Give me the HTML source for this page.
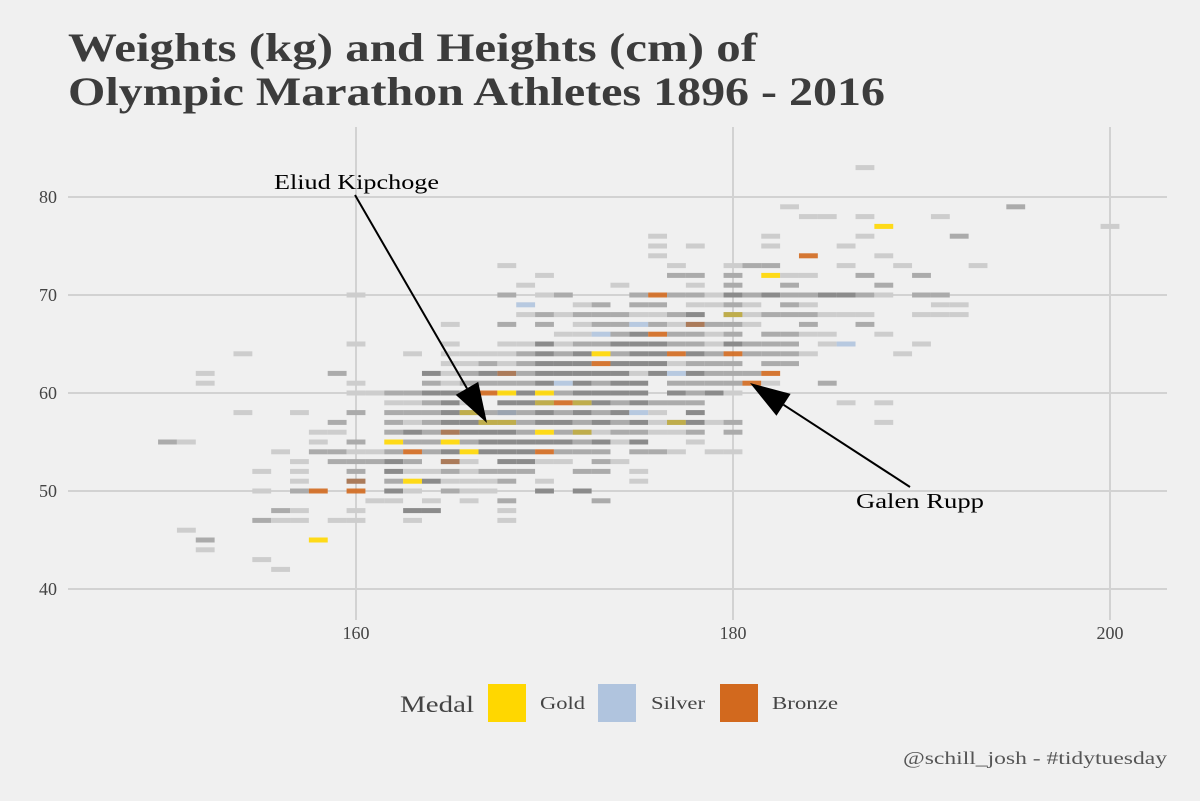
<!DOCTYPE html>
<html><head><meta charset="utf-8"><style>
html,body{margin:0;padding:0;background:#f0f0f0;}
svg{display:block;font-family:"Liberation Serif",serif;}
</style></head><body>
<svg width="1200" height="801" viewBox="0 0 1200 801">
<rect width="1200" height="801" fill="#f0f0f0"/>
<text x="68" y="61" font-size="40" font-weight="bold" fill="#3c3c3c" textLength="689" lengthAdjust="spacingAndGlyphs">Weights (kg) and Heights (cm) of</text>
<text x="68" y="105" font-size="40" font-weight="bold" fill="#3c3c3c" textLength="817" lengthAdjust="spacingAndGlyphs">Olympic Marathon Athletes 1896 - 2016</text>
<g id="grid"></g>
<g id="tiles"></g>
<g id="axes"></g>
<g id="annot"></g>
<g>
<text x="400" y="712" font-size="23" fill="#444" textLength="74" lengthAdjust="spacingAndGlyphs">Medal</text>
<rect x="488" y="684" width="38" height="38" fill="#FFD700"/>
<text x="540" y="709" font-size="18" fill="#444" textLength="45" lengthAdjust="spacingAndGlyphs">Gold</text>
<rect x="598" y="684" width="38" height="38" fill="#B0C4DE"/>
<text x="651" y="709" font-size="18" fill="#444" textLength="54" lengthAdjust="spacingAndGlyphs">Silver</text>
<rect x="720" y="684" width="38" height="38" fill="#D2691E"/>
<text x="772" y="709" font-size="18" fill="#444" textLength="66" lengthAdjust="spacingAndGlyphs">Bronze</text>
</g>
<text x="903" y="764" font-size="18" fill="#555" textLength="264" lengthAdjust="spacingAndGlyphs">@schill_josh - #tidytuesday</text>
</svg>
<script>
const xTicks=[160,180,200];
const yTicks=[40,50,60,70,80];
const rowWeights=[83,79,78,77,76,75,74,73,72,71,70,69,68,67,66,65,64,63,62,61,60,59,58,57,56,55,54,53,52,51,50,49,48,47,46,45,44,43,42];
const rowCells=[
"187l","183l 195m","184l 185l 187l 191l","188G 200l","176l 182l 187l 192m","176l 178l 182l 186l","176l 184B 188l",
"168l 177l 180l 181m 182m 186l 189l 193l",
"170l 177m 178m 180m 182G 183l 184l 187m 190m",
"169l 174l 178l 180m 183m 188m",
"160l 168m 170l 171m 175m 176B 177m 178m 179l 180d 181m 182d 183m 184m 185d 186d 187m 188l 190m 191m",
"169S 172l 173m 175m 176m 178l 179l 180m 181l 183m 184l 191l 192l",
"169l 170m 171l 172m 173m 174m 175l 176l 177m 178d 180o 181l 182m 183m 184m 185l 186l 187l 190l 191l 192l",
"165l 168m 170m 172l 173m 174m 175S 176m 177l 178b 179m 180m 181l 184m 187m",
"171l 172l 173S 174m 175d 176B 177m 178m 179l 180m 182m 183m 184l 185l 188l",
"160l 165l 168l 169l 170d 171l 172m 173m 174d 175d 176d 177m 178m 179l 180d 181m 182m 183m 185l 186S 190l",
"154l 163l 165l 166l 167l 168l 169m 170d 171m 172d 173G 174m 175d 176d 177B 178d 179m 180B 181m 182m 183m 184l 189l",
"165l 166l 167m 168l 169m 170d 171d 172d 173B 174d 175d 176d 177l 178m 179m 180m 182m 183m",
"152l 159m 164d 165l 166m 167d 168b 169m 170d 171d 172d 173d 174d 175l 176d 177S 178d 179m 180m 181m 182B",
"152l 160l 164m 165l 166m 167m 168m 169m 170d 171S 172d 173m 174d 175d 177m 178m 179m 180m 181B 182l 185m",
"160l 161l 162m 163m 164d 165d 166m 167B 168G 169d 170G 171m 172d 173d 174d 175d 177d 178m 179d 180l",
"162l 163l 164m 165d 166l 168d 169d 170o 171B 172o 173d 174m 175d 176m 177m 178m 186l 188l",
"154l 157l 160m 162m 163m 164m 165d 166o 167m 168s 169m 170d 171m 172d 173m 174d 175S 176l 178d",
"159m 162m 163l 164m 165d 166d 167o 168o 169m 170d 171d 172m 173d 174m 175d 176l 177o 178d 179l 180m 188l",
"158l 159l 162m 163d 164m 165b 166d 167d 168d 169m 170G 171m 172o 173l 174m 175m 176l 177l 178m 180m",
"150m 151l 158l 160m 162G 163m 164m 165G 166m 167d 168d 169d 170d 171d 172m 173d 174l 175d 178l",
"156l 158m 159m 160l 161l 162m 163B 164m 165d 166G 167d 168d 169d 170B 171m 172m 173m 175m 176m 177l 179l 180l",
"157l 159m 160m 161m 162d 163m 165b 166l 168d 169d 170l 171l 173m 174l",
"155l 157l 160m 162d 163l 164l 165m 166l 167m 168m 169m 172m 173m 175l",
"157l 160b 162m 163G 164d 165l 166l 167l 168m 170l 175l",
"155l 157m 158B 160B 162d 163l 165m 166l 167l 170d 172d",
"161l 162l 164l 166l 168m 173m",
"156m 157l 160l 163d 164d 168l",
"155m 156l 157l 159l 160l 163l 168l",
"151l","152m 158G","152l","155l","156l"
];
const NS="http://www.w3.org/2000/svg";
const x0=356, xs=(733-356)/20, y0=197, ys=(589-197)/40;
function xScale(h){return x0+(h-160)*xs;}
function yScale(w){return y0+(80-w)*ys;}
function mk(tag,attrs,parent){const e=document.createElementNS(NS,tag);for(const k in attrs)e.setAttribute(k,attrs[k]);parent.appendChild(e);return e;}
const grid=document.getElementById('grid'),tiles=document.getElementById('tiles'),axes=document.getElementById('axes'),annot=document.getElementById('annot');
yTicks.forEach(t=>{
  const l=mk('line',{x1:68,x2:1167,y1:yScale(t),y2:yScale(t),stroke:'#d2d2d2','stroke-width':2},grid);
  
  
  const tx=mk('text',{x:57,y:yScale(t)+6,'font-size':18,fill:'#444','text-anchor':'end'},axes);
  tx.textContent=t;
  
  
});
xTicks.forEach(t=>{
  const l=mk('line',{x1:xScale(t),x2:xScale(t),y1:127,y2:620,stroke:'#d2d2d2','stroke-width':2},grid);
  
  
  const tx=mk('text',{x:xScale(t),y:639,'font-size':18,fill:'#444','text-anchor':'middle'},axes);
  tx.textContent=t;
  
  
});
const grayFill={l:'#cdcdcd',m:'#ababab',d:'#8b8b8b'};
const medalFill={G:'#FFD700',S:'#B0C4DE',B:'#D2691E',o:'#FFD700',s:'#B0C4DE',b:'#D2691E'};
rowWeights.forEach((w,i)=>{
  rowCells[i].split(' ').forEach(c=>{
    const h=parseFloat(c.slice(0,-1)), code=c.slice(-1);
    const x=xScale(h-0.5), y=yScale(w)-2.5, wd=xs;
    if(grayFill[code]){
      const r=mk('rect',{x:x,y:y,width:wd,height:5,fill:grayFill[code]},tiles);
      
      
    } else {
      if('osb'.includes(code)){
        const r=mk('rect',{x:x,y:y,width:wd,height:5,fill:'#8b8b8b'},tiles);
        
        
      }
      const r=mk('rect',{x:x,y:y,width:wd,height:5,fill:medalFill[code],opacity:('osb'.includes(code)?0.45:0.9)},tiles);
      
      
    }
  });
});
function arrow(x1,y1,x2,y2,name){
  const dx=x2-x1,dy=y2-y1,L=Math.hypot(dx,dy),ux=dx/L,uy=dy/L,hl=40,hw=13;
  const bx=x2-ux*hl,by=y2-uy*hl;
  const ln=mk('line',{x1:x1,y1:y1,x2:bx,y2:by,stroke:'#000','stroke-width':2},annot);
  
  
  const p=mk('polygon',{points:`${x2},${y2} ${bx-uy*hw},${by+ux*hw} ${bx+uy*hw},${by-ux*hw}`,fill:'#000'},annot);
  
  
}
arrow(355,195,487,423,'kipchoge-arrow');
arrow(910,487,750,383,'rupp-arrow');
const t1=mk('text',{x:274,y:189,'font-size':21,fill:'#000',textLength:165,lengthAdjust:'spacingAndGlyphs'},annot);
t1.textContent='Eliud Kipchoge';


const t2=mk('text',{x:856,y:508,'font-size':21,fill:'#000',textLength:128,lengthAdjust:'spacingAndGlyphs'},annot);
t2.textContent='Galen Rupp';


</script>
</body></html>
